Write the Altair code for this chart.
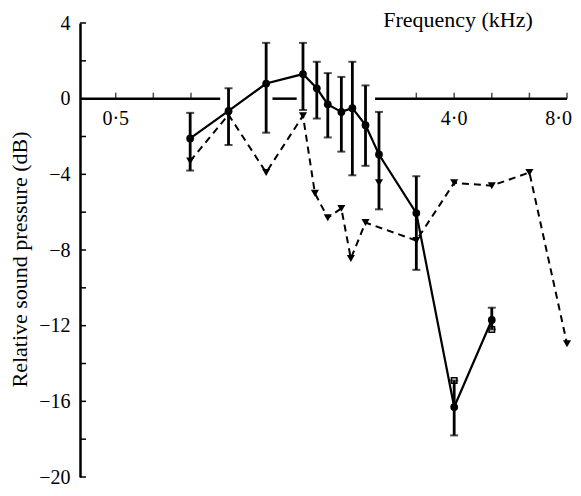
import altair as alt
import pandas as pd

# ---- data ----
# solid series (filled circles) with error bars
freq_c = [0.79, 1.0, 1.26, 1.58, 1.72, 1.84, 2.0, 2.14, 2.32, 2.52, 3.17, 4.0, 5.04]
db_c = [-2.1, -0.65, 0.8, 1.3, 0.55, -0.3, -0.7, -0.5, -1.4, -2.95, -6.05, -16.3, -11.7]
hi_c = [-0.75, 0.55, 2.95, 2.95, 1.95, 1.35, 1.15, 1.95, 0.7, -0.7, -4.1, -14.9, -11.05]
lo_c = [-3.8, -2.45, -1.8, -0.6, -1.05, -2.05, -2.8, -4.05, -3.55, -5.85, -9.05, -17.8, -12.2]

# dashed series (filled down-triangles)
freq_t = [0.79, 1.0, 1.26, 1.58, 1.70, 1.84, 2.0, 2.12, 2.32, 3.17, 4.0, 5.04, 6.35, 8.0]
db_t = [-3.3, -0.85, -3.9, -0.9, -5.0, -6.3, -5.8, -8.45, -6.55, -7.5, -4.45, -4.6, -3.9, -12.95]

# unconnected triangle and open squares
freq_t_extra = [2.52]
db_t_extra = [-4.45]
freq_sq = [4.0, 5.04]
db_sq = [-14.9, -12.2]

# frequency axis drawn along 0 dB (broken where the data cross it)
axis_seg_start = [0.4015, 1.31, 2.46]
axis_seg_end = [0.95, 1.52, 8.0]
x_tick_freqs = [0.5, 0.63, 0.794, 3.17, 4.0, 5.04, 6.35, 8.0]
x_label_freqs = [0.5, 4.0]
x_label_text = ["0·5", "4·0"]
x_last_label_freq = [8.0]
x_last_label_text = ["8·0"]
y_tick_values = [4, 2, 0, -2, -4, -6, -8, -10, -12, -14, -16, -18, -20]
y_label_values = [4, 0, -4, -8, -12, -16, -20]
x_title = "Frequency (kHz)"
y_title = "Relative sound pressure (dB)"

FONT = "Liberation Serif"

circles = pd.DataFrame({"f": freq_c, "db": db_c, "hi": hi_c, "lo": lo_c})
tri = pd.DataFrame({"f": freq_t, "db": db_t})
tri_x = pd.DataFrame({"f": freq_t_extra, "db": db_t_extra})
sq = pd.DataFrame({"f": freq_sq, "db": db_sq})
segs = pd.DataFrame({"f": axis_seg_start, "f2": axis_seg_end, "z": [0] * len(axis_seg_start)})
xt = pd.DataFrame({"f": x_tick_freqs, "z": [0] * len(x_tick_freqs)})
xl = pd.DataFrame({"f": x_label_freqs, "t": x_label_text, "z": [0] * len(x_label_freqs)})
xl_last = pd.DataFrame({"f": x_last_label_freq, "t": x_last_label_text, "z": [0]})
yt = pd.DataFrame({"v": y_tick_values})

xs = alt.Scale(type="log", base=2, domain=[0.4015, 8.0], nice=False)
ys = alt.Scale(domain=[-20, 4], nice=False, zero=False)

yaxis = alt.Axis(
    values=y_label_values, ticks=False, grid=False,
    domainColor="black", domainWidth=2.5,
    labelFont=FONT, labelFontSize=20, labelColor="black", labelPadding=10,
    title=y_title, titleFont=FONT, titleFontSize=22, titleFontWeight="normal",
    titleColor="black", titleAngle=270, titleAlign="center", titleBaseline="middle",
    titleX=-61, titleY=236,
)

X = lambda fld: alt.X(fld, type="quantitative", scale=xs, axis=None)
Y = lambda fld: alt.Y(fld, type="quantitative", scale=ys, axis=yaxis)

base_axis = alt.Chart(yt).mark_rule(color="black", strokeWidth=1.5).encode(
    y=Y("v"), x=alt.value(0), x2=alt.value(6)
)

xline = alt.Chart(segs).mark_rule(color="black", strokeWidth=2.5).encode(
    x=X("f"), x2="f2", y=Y("z")
)
xticks = alt.Chart(xt).mark_tick(color="black", orient="vertical", size=6, thickness=1.5, yOffset=-3).encode(
    x=X("f"), y=Y("z")
)
xlabels = alt.Chart(xl).mark_text(font=FONT, fontSize=20, color="black", dy=20, align="center", baseline="middle").encode(
    x=X("f"), y=Y("z"), text="t:N"
)
xlabel_last = alt.Chart(xl_last).mark_text(font=FONT, fontSize=20, color="black", dy=20, dx=5, align="right", baseline="middle").encode(
    x=X("f"), y=Y("z"), text="t:N"
)

ebar = alt.Chart(circles).mark_rule(color="black", strokeWidth=2.8).encode(
    x=X("f"), y=Y("lo"), y2="hi"
)
cap_hi = alt.Chart(circles).mark_tick(color="black", orient="horizontal", size=8, thickness=2).encode(
    x=X("f"), y=Y("hi")
)
cap_lo = alt.Chart(circles).mark_tick(color="black", orient="horizontal", size=8, thickness=2).encode(
    x=X("f"), y=Y("lo")
)

solid = alt.Chart(circles).mark_line(color="black", strokeWidth=2.2).encode(x=X("f"), y=Y("db"))
dots = alt.Chart(circles).mark_point(filled=True, shape="circle", size=60, color="black", opacity=1).encode(
    x=X("f"), y=Y("db")
)
dashed = alt.Chart(tri).mark_line(color="black", strokeWidth=2, strokeDash=[7, 5]).encode(x=X("f"), y=Y("db"))
tris = alt.Chart(tri).mark_point(filled=True, shape="triangle-down", size=65, color="black", opacity=1).encode(
    x=X("f"), y=Y("db")
)
tris2 = alt.Chart(tri_x).mark_point(filled=True, shape="triangle-down", size=65, color="black", opacity=1).encode(
    x=X("f"), y=Y("db")
)
squares = alt.Chart(sq).mark_point(filled=False, shape="square", size=30, color="black", strokeWidth=1.5, opacity=1).encode(
    x=X("f"), y=Y("db")
)

xtitle = alt.Chart(pd.DataFrame({"t": [x_title]})).mark_text(
    font=FONT, fontSize=22, color="black", align="center", baseline="middle"
).encode(x=alt.value(378), y=alt.value(-3), text="t:N")

chart = alt.layer(
    base_axis, xline, xticks, xlabels, xlabel_last, ebar, cap_hi, cap_lo,
    dashed, solid, tris, tris2, squares, dots, xtitle
).properties(
    width=487, height=454,
    padding={"left": 72, "top": 15, "right": 6, "bottom": 10},
    autosize=alt.AutoSizeParams(type="none"),
    background="white",
).configure_view(stroke=None)

chart.save("out.html", embed_options={"renderer": "svg", "actions": False})
